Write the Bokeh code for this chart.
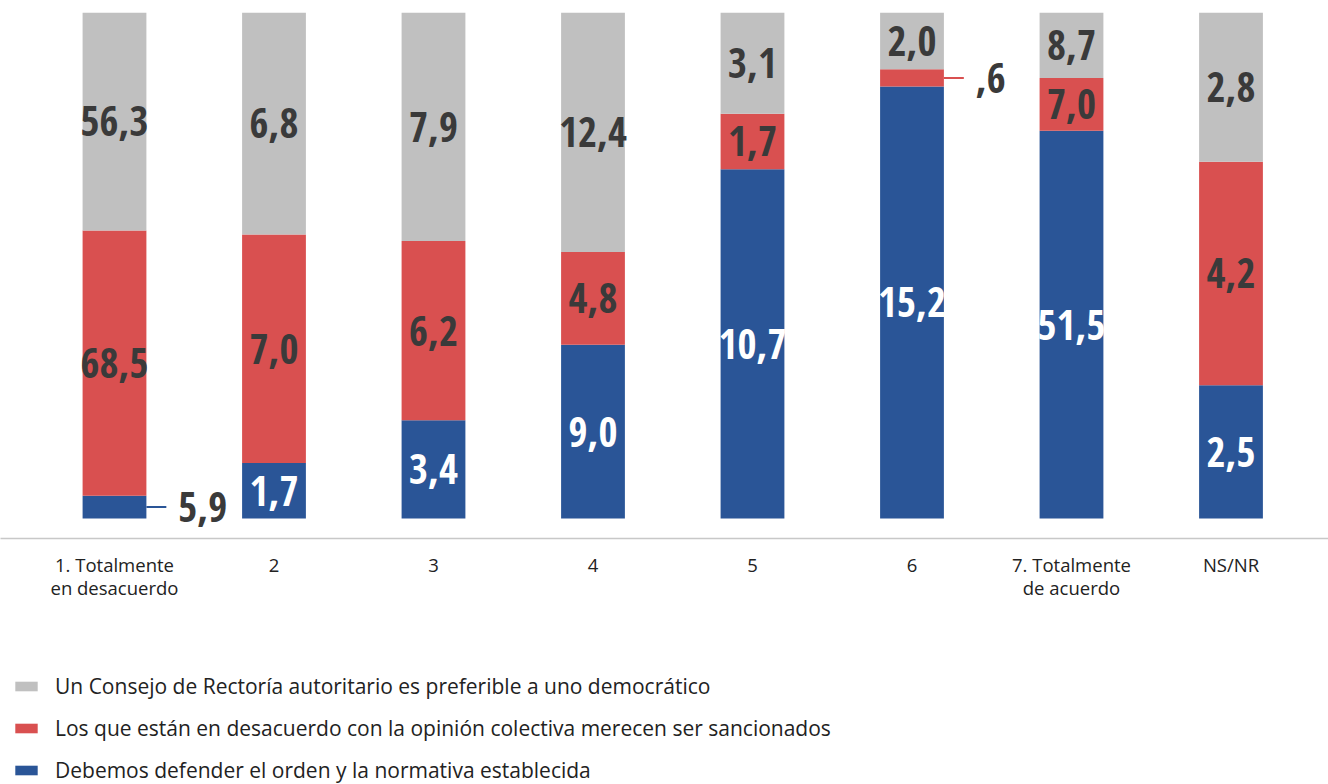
import numpy as np
from bokeh.plotting import figure
from bokeh.layouts import column
from bokeh.models import ColumnDataSource, Range1d, Legend, LegendItem, FixedTicker
from bokeh.core.properties import value
from bokeh.embed import file_html
from bokeh.resources import INLINE

categories = ["1. Totalmente\nen desacuerdo", "2", "3", "4", "5", "6",
              "7. Totalmente\nde acuerdo", "NS/NR"]
autoritario = [56.3, 6.8, 7.9, 12.4, 3.1, 2.0, 8.7, 2.8]
sancionados = [68.5, 7.0, 6.2, 4.8, 1.7, 0.6, 7.0, 4.2]
orden = [5.9, 1.7, 3.4, 9.0, 10.7, 15.2, 51.5, 2.5]

series_labels = [
    "Un Consejo de Rectoría autoritario es preferible a uno democrático",
    "Los que están en desacuerdo con la opinión colectiva merecen ser sancionados",
    "Debemos defender el orden y la normativa establecida",
]
GRAY, RED, BLUE = "#c0c0c0", "#d95050", "#2a5597"
DARK = "#3a3a3a"

x = list(range(len(categories)))
tot = np.array(autoritario) + np.array(sancionados) + np.array(orden)
f_ord = np.array(orden) / tot
f_san = np.array(sancionados) / tot
f_aut = np.array(autoritario) / tot

src = ColumnDataSource(dict(x=x, f_ord=f_ord, f_san=f_san, f_aut=f_aut))

W = 1328
BAR_W = 0.40
p = figure(width=W, height=620, x_range=Range1d(-0.7147, 7.6113),
           y_range=Range1d(-0.0395, 1.0), output_backend="svg",
           toolbar_location=None, y_axis_location=None,
           min_border_top=12, min_border_left=0, min_border_right=0,
           min_border_bottom=82)
p.outline_line_color = None
p.xgrid.visible = False
p.ygrid.visible = False

rs = p.vbar_stack(["f_ord", "f_san", "f_aut"], x="x", width=BAR_W,
                  color=[BLUE, RED, GRAY], line_width=0, source=src)


def fmt(v):
    s = f"{v:.1f}".replace(".", ",")
    if s.startswith("0,"):
        s = s[1:]
    return s


lx, ly, lt, lc, la = [], [], [], [], []
sx0, sx1, sy, sc = [], [], [], []
for i in x:
    segs = [(orden[i], f_ord[i], 0.0, BLUE, "white"),
            (sancionados[i], f_san[i], f_ord[i], RED, DARK),
            (autoritario[i], f_aut[i], f_ord[i] + f_san[i], GRAY, DARK)]
    for v, f, base, col, tcol in segs:
        mid = base + f / 2
        if f < 0.05:
            lx.append(i + BAR_W / 2 + 0.2)
            la.append("left")
            lc.append(DARK)
            sx0.append(i + BAR_W / 2)
            sx1.append(i + BAR_W / 2 + 0.125)
            sy.append(mid)
            sc.append(col)
        else:
            lx.append(i)
            la.append("center")
            lc.append(tcol)
        ly.append(mid)
        lt.append(fmt(v))

p.segment(x0=sx0, y0=sy, x1=sx1, y1=sy, line_color=sc, line_width=2)
lsrc = ColumnDataSource(dict(x=lx, y=ly, text=lt, color=lc, align=la))
p.text(x="x", y="y", text="text", text_color="color", text_align="align",
       text_baseline="middle", text_font=value("Open Sans Condensed"),
       text_font_style="bold", text_font_size="41px", source=lsrc)

ax = p.xaxis[0]
ax.ticker = FixedTicker(ticks=x)
ax.major_label_overrides = {i: c for i, c in zip(x, categories)}
ax.major_tick_line_color = None
ax.minor_tick_line_color = None
ax.axis_line_color = "#c8c8c8"
ax.axis_line_width = 1.5
ax.major_label_standoff = 7
ax.major_label_text_font = "Open Sans"
ax.major_label_text_font_size = "18.5px"
ax.major_label_text_line_height = 0.92
ax.major_label_text_color = "#222222"

# legend panel
p2 = figure(width=W, height=164, x_range=Range1d(0, 1), y_range=Range1d(0, 1),
            output_backend="svg", toolbar_location=None,
            x_axis_location=None, y_axis_location=None,
            min_border=0)
p2.outline_line_color = None
p2.xgrid.visible = False
p2.ygrid.visible = False
# legend proxies (kept outside the visible range)
lr = [p2.vbar(x=[-5], top=[0], width=0.1, color=c, line_width=0)
      for c in (GRAY, RED, BLUE)]
items = [LegendItem(label=series_labels[k], renderers=[lr[k]]) for k in range(3)]
legend = Legend(items=items, location=(12, 0), orientation="vertical",
                glyph_width=28, glyph_height=12, label_standoff=15,
                spacing=14, padding=0, margin=0,
                label_text_font="Open Sans", label_text_font_size="21px",
                label_text_color="#222222",
                background_fill_alpha=0, border_line_color=None)
p2.add_layout(legend)

layout = column(p, p2, spacing=0)
open("out.html", "w").write(file_html(layout, INLINE))
